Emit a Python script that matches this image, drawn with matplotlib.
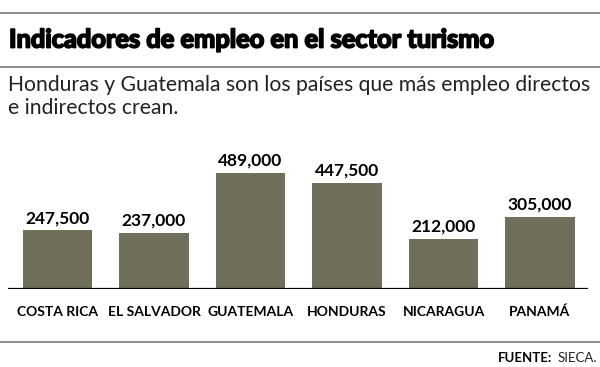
import matplotlib.pyplot as plt
import matplotlib.patheffects as pe
from matplotlib.lines import Line2D

# Data
countries = ['COSTA RICA', 'EL SALVADOR', 'GUATEMALA', 'HONDURAS', 'NICARAGUA', 'PANAMÁ']
empleos = [247500, 237000, 489000, 447500, 212000, 305000]
value_labels = ['247,500', '237,000', '489,000', '447,500', '212,000', '305,000']

W, H = 600, 367
fig = plt.figure(figsize=(6, 3.67), dpi=100)
fig.patch.set_facecolor('white')

def fy(y):
    # pixel from top -> figure fraction
    return 1 - y / H

def fx(x):
    return x / W

# horizontal rules
for y in (12.5, 66.5, 342):
    fig.add_artist(Line2D([0, 1], [fy(y), fy(y)], color='#7a7a7a', lw=1.2,
                          transform=fig.transFigure))

# Title and subtitle
fig.text(fx(9), fy(40), 'Indicadores de empleo en el sector turismo',
         fontsize=18.3, fontweight='bold', family='Lato', va='center', ha='left',
         path_effects=[pe.withStroke(linewidth=1.3, foreground='black')])
fig.text(fx(8), fy(85), 'Honduras y Guatemala son los países que más empleo directos',
         fontsize=15.2, family='Lato', va='center', ha='left', color='#222222')
fig.text(fx(8), fy(108), 'e indirectos crean.',
         fontsize=15.2, family='Lato', va='center', ha='left', color='#222222')

# Bar axes
base = 289
scale = 116 / 489000
ymax = 600000
ax_h = ymax * scale
unit = 96.5
first_center = 57.5
left_px, right_px = 8, 588
ax = fig.add_axes([fx(left_px), fy(base), fx(right_px - left_px), ax_h / H])
x = list(range(len(countries)))
ax.bar(x, empleos, width=69.5 / unit, color='#6f6f5b', zorder=2)
ax.set_xlim(-(first_center - left_px) / unit, 5 + (right_px - (first_center + 5 * unit)) / unit)
ax.set_ylim(0, ymax)
ax.axhline(0, color='black', lw=1.6, zorder=3)
ax.axis('off')

for xi, v, lab in zip(x, empleos, value_labels):
    ax.annotate(lab, (xi, v), xytext=(0, 3), textcoords='offset points',
                ha='center', va='bottom', fontsize=12.5, fontweight='bold', family='Lato')

for xi, c in zip(x, countries):
    ax.annotate(c, (xi, 0), xytext=(0, -16.5), textcoords='offset points',
                ha='center', va='center', fontsize=10, fontweight='bold', family='Lato')

# Footer
fig.text(fx(597), fy(358), 'SIECA.', fontsize=9.5, family='Lato', ha='right', va='center',
         color='#222222')
fig.text(fx(552), fy(358), 'FUENTE:', fontsize=9.5, fontweight='bold', family='Lato',
         ha='right', va='center')

fig.savefig('out.png', dpi=100)
